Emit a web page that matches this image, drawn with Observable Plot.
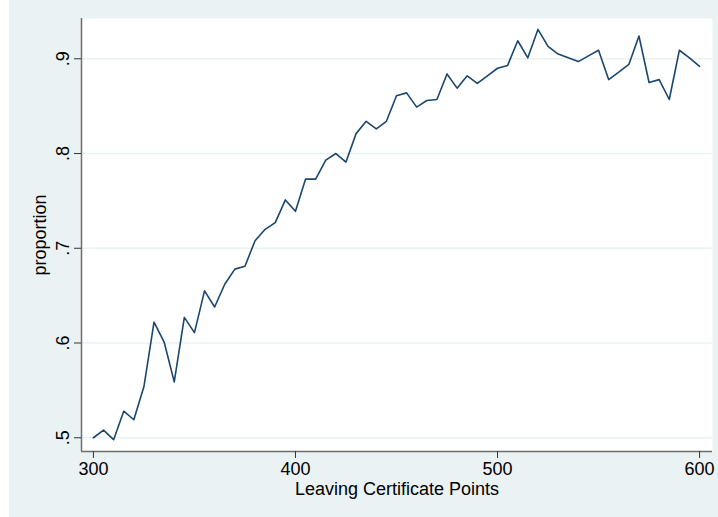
<!DOCTYPE html>
<html>
<head>
<meta charset="utf-8">
<script src="https://cdn.jsdelivr.net/npm/d3@7"></script>
<script src="https://cdn.jsdelivr.net/npm/@observablehq/plot@0.6"></script>
<style>
  html, body { margin: 0; padding: 0; background: #ffffff; }
  #chart { position: absolute; left: 9px; top: 0; width: 709px; height: 517px; background: #eaf2f3; }
  #chart svg { display: block; }
</style>
</head>
<body>
<div id="chart"></div>
<script>
const points = [300,305,310,315,320,325,330,335,340,345,350,355,360,365,370,375,380,385,390,395,
  400,405,410,415,420,425,430,435,440,445,450,455,460,465,470,475,480,485,490,495,
  500,505,510,515,520,525,530,535,540,545,550,555,560,565,570,575,580,585,590,595,600];
const proportion = [0.500,0.508,0.498,0.528,0.519,0.554,0.622,0.601,0.559,0.627,0.611,0.655,0.638,0.662,0.678,0.681,0.708,0.720,0.727,0.751,
  0.739,0.773,0.773,0.793,0.800,0.791,0.821,0.834,0.826,0.834,0.861,0.864,0.849,0.856,0.857,0.884,0.869,0.882,0.874,0.882,
  0.890,0.893,0.919,0.901,0.931,0.913,0.905,0.901,0.897,0.903,0.909,0.878,0.886,0.894,0.924,0.875,0.878,0.857,0.909,0.901,0.892];
const xTicks = [300, 400, 500, 600];
const yTicks = [0.5, 0.6, 0.7, 0.8, 0.9];
const xDomain = [294.1, 606.4];
const yDomain = [0.4855, 0.9425];

const data = points.map((p, i) => ({points: p, proportion: proportion[i]}));

const chart = Plot.plot({
  width: 709,
  height: 517,
  marginLeft: 72,
  marginRight: 6,
  marginTop: 18,
  marginBottom: 66,
  style: {fontFamily: "'Liberation Sans', Arial, sans-serif", fontSize: "18px", background: "transparent", color: "#000"},
  x: {domain: xDomain},
  y: {domain: yDomain},
  marks: [
    Plot.frame({fill: "white", stroke: null}),
    Plot.gridY(yTicks, {stroke: "#eaf2f3", strokeOpacity: 1, strokeWidth: 1.5}),
    Plot.line(data, {x: "points", y: "proportion", stroke: "#1a476f", strokeWidth: 1.6}),
    Plot.ruleX([xDomain[0]], {stroke: "#6e6e6e", strokeWidth: 1.5}),
    Plot.ruleY([yDomain[0]], {stroke: "#6e6e6e", strokeWidth: 1.5}),
    Plot.axisX(xTicks, {
      tickSize: 7, tickPadding: 4, stroke: "#333",
      tickFormat: d => String(d),
      label: "Leaving Certificate Points", labelAnchor: "center", labelArrow: "none", labelOffset: 43
    }),
    Plot.axisY(yTicks, {
      tickSize: 7, tickPadding: 6, stroke: "#333", tickRotate: -90, textAnchor: "middle",
      tickFormat: d => d.toFixed(1).replace(/^0/, ""),
      label: "proportion", labelAnchor: "center", labelArrow: "none", labelOffset: 48
    })
  ]
});
document.getElementById("chart").appendChild(chart);
</script>
</body>
</html>
